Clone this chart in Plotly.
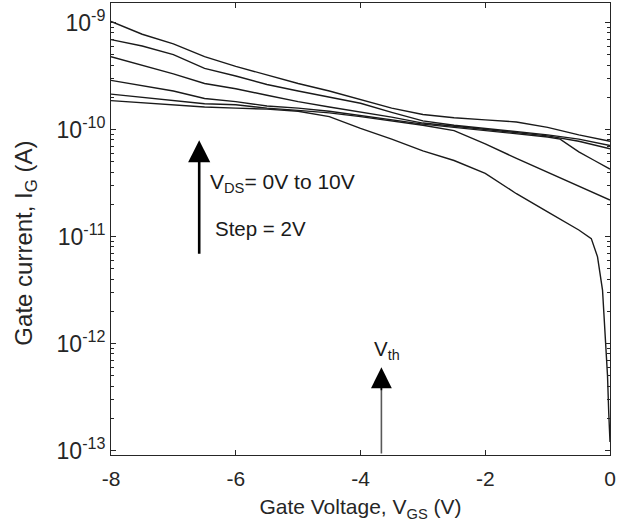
import plotly.graph_objects as go

# ---------------- data ----------------
vgs_main = [-8, -7.5, -7, -6.5, -6, -5.5, -5, -4.5, -4, -3.5, -3, -2.5, -2, -1.5, -1, -0.5, 0]

ig_vds10 = [1.023e-9, 7.76e-10, 6.31e-10, 4.79e-10, 3.89e-10, 3.24e-10, 2.69e-10, 2.29e-10, 1.905e-10,
            1.585e-10, 1.38e-10, 1.288e-10, 1.23e-10, 1.175e-10, 1.047e-10, 8.91e-11, 7.76e-11]
ig_vds8 = [6.92e-10, 6.03e-10, 5.01e-10, 3.72e-10, 3.16e-10, 2.63e-10, 2.29e-10, 2.00e-10, 1.758e-10,
           1.445e-10, 1.202e-10, 1.096e-10, 1.023e-10, 9.55e-11, 8.91e-11, 8.13e-11, 7.08e-11]
ig_vds6 = [4.79e-10, 3.98e-10, 3.31e-10, 2.69e-10, 2.40e-10, 2.09e-10, 1.82e-10, 1.62e-10, 1.462e-10,
           1.303e-10, 1.148e-10, 1.072e-10, 1.0e-10, 9.33e-11, 8.71e-11, 7.76e-11, 6.61e-11]

vgs_vds4 = [-8, -7.5, -7, -6.5, -6, -5.5, -5, -4.5, -4, -3.5, -3, -2.5, -2, -1.5, -1, -0.8, -0.5, -0.25, 0]
ig_vds4 = [2.88e-10, 2.57e-10, 2.29e-10, 1.95e-10, 1.82e-10, 1.66e-10, 1.585e-10, 1.479e-10, 1.349e-10,
           1.245e-10, 1.122e-10, 1.047e-10, 9.77e-11, 9.12e-11, 8.51e-11, 8.13e-11, 6.17e-11, 5.13e-11, 4.27e-11]

vgs_vds2 = [-8, -7.5, -7, -6.5, -6, -5.5, -5, -4.5, -4, -3.5, -3, -2.5, -2.25, -2, -1.5, -1, -0.5, 0]
ig_vds2 = [2.14e-10, 2.00e-10, 1.86e-10, 1.74e-10, 1.70e-10, 1.585e-10, 1.51e-10, 1.429e-10, 1.318e-10,
           1.202e-10, 1.096e-10, 9.77e-11, 8.51e-11, 7.33e-11, 5.37e-11, 3.98e-11, 2.95e-11, 2.19e-11]

vgs_vds0 = [-8, -7.5, -7, -6.5, -6, -5.5, -5, -4.5, -4, -3.5, -3, -2.5, -2, -1.5, -1, -0.5,
            -0.3, -0.2, -0.12, -0.07, -0.04, -0.02, 0]
ig_vds0 = [1.86e-10, 1.778e-10, 1.70e-10, 1.62e-10, 1.585e-10, 1.549e-10, 1.479e-10, 1.318e-10, 1.023e-10,
           8.13e-11, 6.31e-11, 5.13e-11, 3.89e-11, 2.51e-11, 1.70e-11, 1.15e-11,
           9.55e-12, 6.46e-12, 3.16e-12, 1.07e-12, 5.01e-13, 2.24e-13, 1.20e-13]

x_tickvals = [-8, -6, -4, -2, 0]
x_ticktext = ["-8", "-6", "-4", "-2", "0"]
y_tickvals = [1e-13, 1e-12, 1e-11, 1e-10, 1e-9]
y_ticktext = ["10<sup>-13</sup>", "10<sup>-12</sup>", "10<sup>-11</sup>", "10<sup>-10</sup>", "10<sup>-9</sup>"]
y_minor = [m * d for d in [1e-13, 1e-12, 1e-11, 1e-10] for m in range(2, 10)]

# ---------------- figure ----------------
FONT = "Liberation Sans, Arial, sans-serif"
AXC = "#262626"
fig = go.Figure()
series = [
    (vgs_main, ig_vds10), (vgs_main, ig_vds8), (vgs_main, ig_vds6),
    (vgs_vds4, ig_vds4), (vgs_vds2, ig_vds2), (vgs_vds0, ig_vds0),
]
for xs, ys in series:
    fig.add_trace(go.Scatter(x=xs, y=ys, mode="lines",
                             line=dict(color="#1a1a1a", width=1.4), showlegend=False))

axis_common = dict(showline=True, linecolor=AXC, linewidth=1, mirror="allticks",
                   ticks="inside", ticklen=5, tickwidth=1, tickcolor=AXC,
                   showgrid=False, zeroline=False)

fig.update_layout(
    width=628, height=525,
    margin=dict(l=111, r=18, t=3, b=70),
    paper_bgcolor="white", plot_bgcolor="white",
    xaxis=dict(range=[-8, 0], tickmode="array", tickvals=x_tickvals, ticktext=x_ticktext,
               tickfont=dict(family=FONT, size=21, color=AXC), ticklabelstandoff=5,
               title=dict(text="Gate Voltage, V<sub>GS</sub> (V)",
                          font=dict(family=FONT, size=21, color=AXC), standoff=10),
               **axis_common),
    yaxis=dict(type="log", range=[-13.042, -8.818], tickmode="array",
               tickvals=y_tickvals, ticktext=y_ticktext,
               tickfont=dict(family=FONT, size=23, color=AXC),
               minor=dict(tickmode="array", tickvals=y_minor, ticks="inside", ticklen=3,
                          tickcolor=AXC, showgrid=False),
               **axis_common),
)

# y-axis title placed as a rotated annotation
fig.add_annotation(text="Gate current, I<sub>G</sub> (A)", textangle=-90,
                   xref="paper", yref="paper", x=-0.172, y=0.468,
                   xanchor="center", yanchor="middle", showarrow=False,
                   font=dict(family=FONT, size=24, color=AXC))

# V_DS arrow (log axis annotations use log10 coordinates)
fig.add_annotation(x=-6.586, y=-10.10, ax=-6.586, ay=-11.175, axref="x", ayref="y",
                   xref="x", yref="y", text="", showarrow=True,
                   arrowhead=2, arrowwidth=2.6, arrowsize=1.7, arrowcolor="black", standoff=0)
fig.add_annotation(x=-6.45, y=-10.50, xref="x", yref="y", xanchor="left", yanchor="middle",
                   text="V<sub>DS</sub>= 0V to 10V", showarrow=False,
                   font=dict(family=FONT, size=21, color="#1a1a1a"))
fig.add_annotation(x=-6.36, y=-10.922, xref="x", yref="y", xanchor="left", yanchor="middle",
                   text="Step = 2V", showarrow=False,
                   font=dict(family=FONT, size=20.5, color="#1a1a1a"))

# V_th arrow: grey shaft, black head
fig.add_annotation(x=-3.665, y=-12.30, ax=-3.665, ay=-13.042, axref="x", ayref="y",
                   xref="x", yref="y", text="", showarrow=True,
                   arrowhead=0, arrowwidth=1.6, arrowcolor="#595959", standoff=0)
fig.add_annotation(x=-3.665, y=-12.223, ax=-3.665, ay=-12.45, axref="x", ayref="y",
                   xref="x", yref="y", text="", showarrow=True,
                   arrowhead=2, arrowwidth=1.6, arrowsize=2.6, arrowcolor="black", standoff=0)
fig.add_annotation(x=-3.82, y=-12.06, xref="x", yref="y", xanchor="left", yanchor="middle",
                   text="V<sub>th</sub>", showarrow=False,
                   font=dict(family=FONT, size=20.5, color="#1a1a1a"))

fig.write_html("out.html")
